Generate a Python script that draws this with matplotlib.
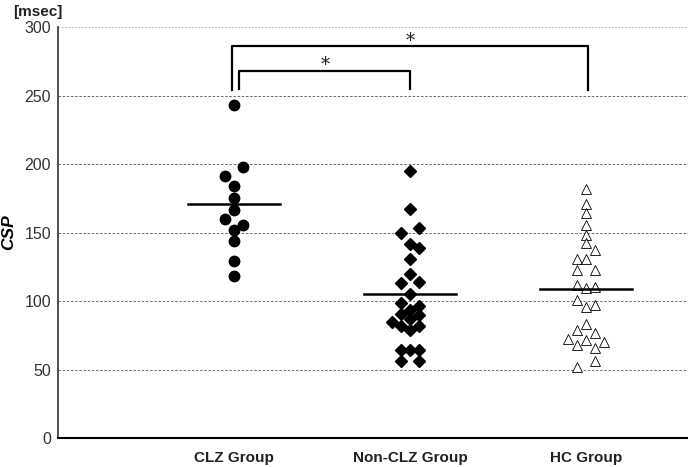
import matplotlib
matplotlib.use("Agg")
import matplotlib.pyplot as plt
import numpy as np

plt.rcParams["font.family"] = ["Liberation Sans", "DejaVu Sans"]

# ---- data ----------------------------------------------------------------
groups = ["CLZ Group", "Non-CLZ Group", "HC Group"]

clz_vals = [243, 198, 191.5, 184, 175.5, 166.5, 160, 155.5, 152, 144, 129, 118]
clz_off = [0, 1, -1, 0, 0, 0, -1, 1, 0, 0, 0, 0]

nonclz_vals = [195, 167, 153.5, 150, 141.5, 139, 130.5, 119.5, 113.5, 114, 105,
               98.5, 96.5, 93.5, 90.5, 90, 84.5, 87, 82, 82, 79, 64, 64, 64, 56, 56]
nonclz_off = [0, 0, 1, -1, 0, 1, 0, 0, -1, 1, 0,
              -1, 1, 0, -1, 1, -2, 0, -1, 1, 0, -1, 0, 1, -1, 1]

hc_vals = [182, 170.5, 164, 155.5, 148, 142.5, 137, 131, 130.5, 122.5, 123,
           111.5, 109.5, 110.5, 100.5, 96, 97, 83, 79, 77, 72, 71.5, 68, 70,
           65.5, 56.5, 52]
hc_off = [0, 0, 0, 0, 0, 0, 1, -1, 0, -1, 1,
          -1, 0, 1, -1, 0, 1, 0, -1, 1, -2, 0, -1, 2, 1, 1, -1]

means = [171, 105, 109]

# ---- figure ---------------------------------------------------------------
fig = plt.figure(figsize=(6.88, 4.67), dpi=100)
ax = fig.add_axes([0.0843, 0.062, 0.9157, 0.880])

step = 0.052  # horizontal jitter step (axis units)
ax.plot(1 + np.array(clz_off) * step, clz_vals, "o", ms=7.5,
        color="black", zorder=3)
ax.plot(2 + np.array(nonclz_off) * step, nonclz_vals, "D", ms=6.3,
        color="black", zorder=3)
ax.plot(3 + np.array(hc_off) * step, hc_vals, "^", ms=7.8, mfc="white",
        mec="black", mew=0.6, zorder=3)

for i, m in enumerate(means):
    ax.plot([i + 1 - 0.26, i + 1 + 0.26], [m, m], color="black", lw=1.8,
            zorder=4)

# significance brackets
ax.plot([0.99, 0.99, 3.01, 3.01], [254, 286, 286, 254], color="black",
        lw=1.6, clip_on=False)
ax.plot([1.03, 1.03, 2.0, 2.0], [255, 268, 268, 255], color="black", lw=1.6)
ax.text(2.0, 289.5, "*", ha="center", va="center", fontsize=13,
        family="DejaVu Serif", color="#222222")
ax.text(1.52, 272.5, "*", ha="center", va="center", fontsize=13,
        family="DejaVu Serif", color="#222222")

# grid
for yv in [50, 100, 150, 200, 250]:
    ax.axhline(yv, color="#555555", lw=0.6, ls=(0, (3, 2)), zorder=1)
ax.axhline(300, color="#aaaaaa", lw=0.6, ls=(0, (2, 2)), zorder=1,
           clip_on=False)

ax.set_xlim(0, 3.58)
ax.set_ylim(0, 300)
ax.set_yticks([0, 50, 100, 150, 200, 250, 300])
ax.set_xticks([1, 2, 3])
ax.set_xticklabels(groups, fontweight="bold", fontsize=11, color="#222222")
ax.tick_params(axis="y", length=0, pad=5, labelsize=11.5, labelcolor="#333333")
ax.tick_params(axis="x", length=0, pad=9)

for s in ["top", "right"]:
    ax.spines[s].set_visible(False)
ax.spines["left"].set_color("#333333")
ax.spines["left"].set_linewidth(1.2)
ax.spines["bottom"].set_color("black")
ax.spines["bottom"].set_linewidth(1.5)

ax.set_ylabel("CSP", fontsize=12.5, fontweight="bold", style="italic",
              va="center")
ax.yaxis.set_label_coords(-0.079, 0.5)
fig.text(0.019, 0.99, "[msec]", fontsize=11, fontweight="bold",
         va="top", ha="left", color="#222222")

fig.savefig("out.png", dpi=100)
